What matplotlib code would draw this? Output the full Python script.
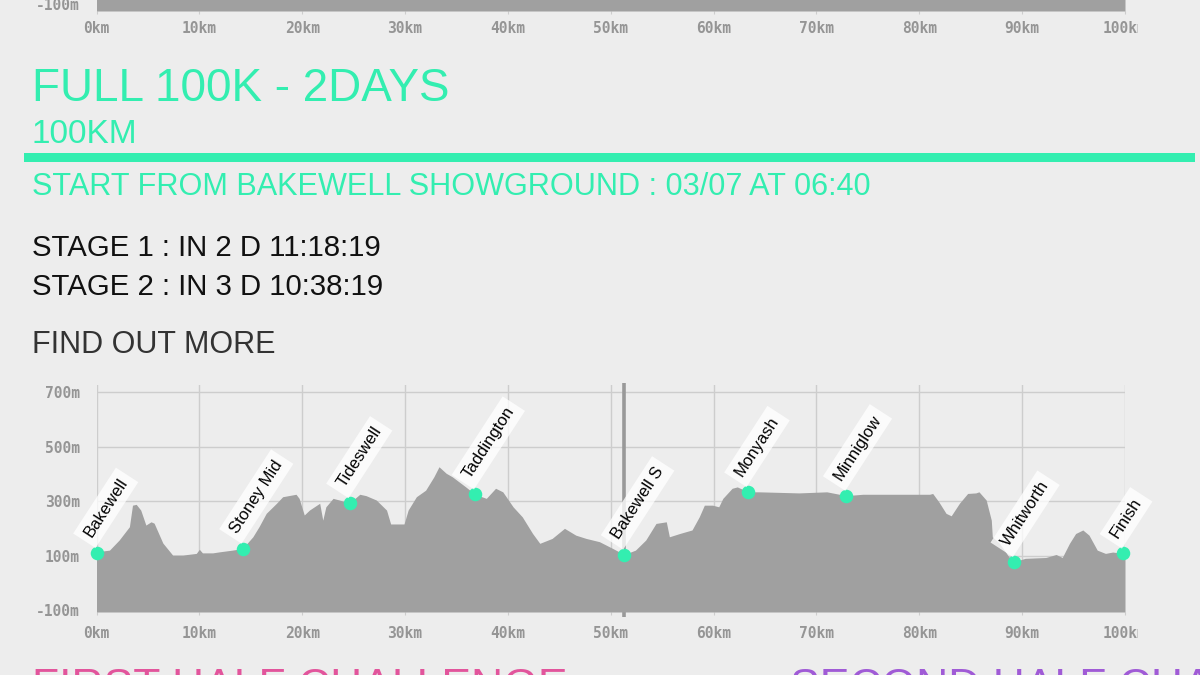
import matplotlib
matplotlib.use("Agg")
import matplotlib.pyplot as plt
from matplotlib.patches import Rectangle
from matplotlib.transforms import Bbox, TransformedBbox

# ---------------- data ----------------
km = [0, 1.26, 2.2, 3.2, 3.5, 3.86, 4.3, 4.8, 5.3, 5.6, 6.45, 7.4, 8.4, 9.7, 10.0, 10.3,
      11.3, 12.0, 13.2, 14.2, 15.2, 15.8, 16.5, 17.5, 18.1, 19.4, 19.7, 20.2, 20.7, 21.7,
      22.0, 22.3, 23.0, 23.6, 24.6, 25.6, 26.2, 27.2, 28.2, 28.6, 29.9, 30.3, 31.1, 32.0,
      32.8, 33.3, 34.0, 34.6, 35.9, 36.8, 37.9, 38.8, 39.5, 40.5, 41.4, 42.4, 43.1, 44.3,
      45.5, 46.6, 47.6, 48.9, 50.2, 51.3, 52.4, 53.4, 54.4, 55.4, 55.7, 56.7, 57.9, 58.6,
      59.1, 59.9, 60.5, 60.9, 61.8, 62.3, 63.0, 63.3, 64.4, 68.3, 71.0, 72.9, 74.5, 81.0,
      81.3, 81.9, 82.6, 83.1, 83.9, 84.7, 85.5, 85.8, 86.5, 87.0, 87.1, 87.8, 88.7, 89.2,
      90.3, 92.3, 93.3, 93.9, 94.6, 95.2, 95.9, 96.5, 97.3, 98.1, 98.8, 99.8, 100.0]
elev = [114, 120, 157, 206, 285, 288, 267, 212, 224, 219, 146, 102, 102, 108, 123, 110,
        110, 114, 120, 126, 169, 206, 255, 292, 316, 325, 310, 249, 267, 292,
        230, 279, 310, 304, 293, 325, 320, 304, 267, 216, 216, 267, 316, 340,
        389, 426, 402, 389, 352, 325, 310, 347, 334, 279, 242, 181, 145, 163,
        200, 175, 163, 151, 126, 104, 120, 157, 218, 224, 169, 181, 194, 242,
        285, 285, 279, 310, 347, 352, 340, 334, 334, 330, 334, 320, 325, 325,
        328, 297, 255, 246, 292, 328, 330, 334, 304, 230, 169, 145, 96, 77,
        90, 93, 104, 93, 145, 181, 194, 175, 120, 108, 113, 108, 109]

wp_names = ["Bakewell", "Stoney Mid", "Tideswell", "Taddington", "Bakewell S",
            "Monyash", "Minniglow", "Whitworth", "Finish"]
wp_km = [0, 14.2, 24.6, 36.8, 51.3, 63.3, 72.9, 89.2, 99.8]
wp_elev = [110, 126, 293, 325, 104, 334, 320, 77, 108]

x_ticks = list(range(0, 101, 10))
x_labels = [f"{v}km" for v in x_ticks]
y_ticks = [-100, 100, 300, 500, 700]
y_labels = [f"{v}m" for v in y_ticks]
top_y_label = "-100m"

title = "FULL 100K - 2DAYS"
distance = "100KM"
start_text = "START FROM BAKEWELL SHOWGROUND : 03/07 AT 06:40"
stage_lines = ["STAGE 1 : IN 2 D 11:18:19", "STAGE 2 : IN 3 D 10:38:19"]
more_text = "FIND OUT MORE"
bottom_titles = ["FIRST HALF CHALLENGE", "SECOND HALF CHALLENGE"]

# ---------------- style ----------------
W, H = 1200, 675
BG = "#ededed"
MINT = "#33eeb0"
FILL = "#a0a0a0"
GRID = "#cdcdcd"
TICK = "#959595"
PINK = "#e2559c"
PURPLE = "#a05bd6"
SANS = "Liberation Sans"
MONO = "DejaVu Sans Mono"


def fx(px):
    return px / W


def fy(py):
    return 1 - py / H


fig = plt.figure(figsize=(12, 6.75), dpi=100, facecolor=BG)

X0, X1 = 96.5, 1125
YLO, YHI = -107, 726
PX_PER_M = 227 / (YHI - YLO)


def style_axis(ax, yt, yl, xpad):
    ax.set_facecolor(BG)
    for s in ax.spines.values():
        s.set_visible(False)
    ax.set_xticks(x_ticks, x_labels)
    ax.set_yticks(yt, yl)
    ax.tick_params(axis="x", length=2, color=GRID, pad=xpad, labelsize=10.5, labelcolor=TICK)
    ax.tick_params(axis="y", length=0, pad=12, labelsize=10.5, labelcolor=TICK)
    for lbl in ax.get_xticklabels() + ax.get_yticklabels():
        lbl.set_fontfamily(MONO)
        lbl.set_fontweight("bold")
    ax.grid(True, color=GRID, lw=1, zorder=0)
    ax.set_axisbelow(True)
    last = ax.get_xticklabels()[-1]
    last.set_clip_on(True)
    last.set_clip_box(TransformedBbox(Bbox([[0, 0], [fx(1138), 1]]), fig.transFigure))


# ---- strip of the previous chart at the very top ----
axt = fig.add_axes([fx(X0), fy(11), fx(X1) - fx(X0), 11 / H])
axt.fill_between(km, elev, YLO, color=FILL, lw=0, zorder=2)
axt.set_xlim(0, 100)
axt.set_ylim(YLO, YLO + 11 / PX_PER_M)
style_axis(axt, [], [], 5)
fig.text(fx(80), fy(5.5), top_y_label, ha="right", va="center", fontsize=10.5,
         color=TICK, family=MONO, fontweight="bold")

# ---- main elevation profile ----
ax = fig.add_axes([fx(X0), fy(612), fx(X1) - fx(X0), 227 / H])
ax.fill_between(km, elev, YLO, color=FILL, lw=0, zorder=2)
ax.set_xlim(0, 100)
ax.set_ylim(YLO, YHI)
style_axis(ax, y_ticks, y_labels, 8)

# split marker at Bakewell S
ax.plot([wp_km[4], wp_km[4]], [YLO - 18, YHI + 8], color="#999999", lw=2.6,
        zorder=1.5, clip_on=False, solid_capstyle="butt")

ax.scatter(wp_km, wp_elev, s=95, color=MINT, zorder=4, clip_on=False, linewidths=0)
for name, k, e in zip(wp_names, wp_km, wp_elev):
    ax.annotate(name, (k, e), xytext=(-9, 17), textcoords="offset pixels",
                rotation=57, rotation_mode="anchor", ha="left", va="center",
                fontsize=12, family=SANS, color="black", zorder=5,
                annotation_clip=False,
                bbox=dict(boxstyle="square,pad=0.35", fc="white", ec="none", alpha=0.78))

# ---------------- page text ----------------
fig.text(fx(32), fy(101), title, fontsize=33, color=MINT, family=SANS, va="baseline")
fig.text(fx(32), fy(143), distance, fontsize=24, color=MINT, family=SANS, va="baseline")
fig.add_artist(Rectangle((fx(24), fy(162)), fx(1195) - fx(24), 9 / H,
                         transform=fig.transFigure, color=MINT, lw=0))
fig.text(fx(32), fy(195), start_text, fontsize=22.1, color=MINT, family=SANS, va="baseline")
fig.text(fx(32), fy(256), stage_lines[0], fontsize=21.2, color="#111111", family=SANS, va="baseline")
fig.text(fx(32), fy(295), stage_lines[1], fontsize=21.2, color="#111111", family=SANS, va="baseline")
fig.text(fx(32), fy(353), more_text, fontsize=22, color="#333333", family=SANS, va="baseline")
# these headings continue below the bottom edge of the screenshot, as in the reference
fig.text(fx(32), fy(700.5), bottom_titles[0], fontsize=32, color=PINK, family=SANS, va="baseline")
fig.text(fx(790), fy(700.5), bottom_titles[1], fontsize=32, color=PURPLE, family=SANS, va="baseline")

fig.savefig("out.png", dpi=100, facecolor=BG)
